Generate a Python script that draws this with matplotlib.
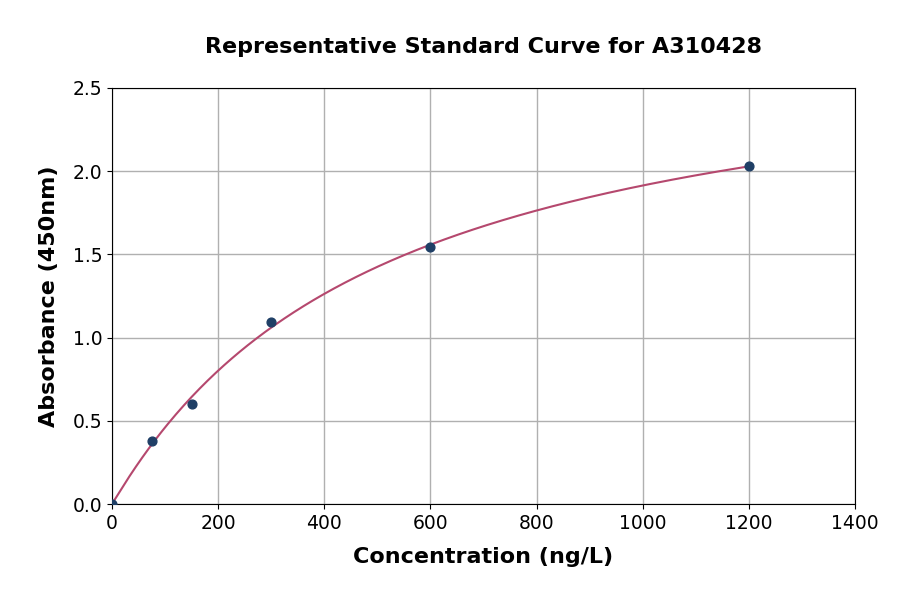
import matplotlib
matplotlib.use("Agg")
import matplotlib.pyplot as plt
import numpy as np

# standard points
concentration = [0, 75, 150, 300, 600, 1200]
absorbance = [0.0, 0.379, 0.601, 1.094, 1.545, 2.031]

x_ticks = [0, 200, 400, 600, 800, 1000, 1200, 1400]
y_ticks = [0.0, 0.5, 1.0, 1.5, 2.0, 2.5]


def fit_curve(x, y):
    """Fit y = a * x^c / (b^c + x^c) with a coarse grid search"""
    x = np.asarray(x, dtype=float)
    y = np.asarray(y, dtype=float)
    best = None
    for b in np.linspace(100, 3000, 300):
        for c in np.linspace(0.5, 2.0, 151):
            f = x ** c / (b ** c + x ** c)
            a = (f @ y) / (f @ f)
            sse = np.sum((a * f - y) ** 2)
            if best is None or sse < best[0]:
                best = (sse, a, b, c)
    _, a, b, c = best
    return lambda t: a * t ** c / (b ** c + t ** c)


curve = fit_curve(concentration, absorbance)
xs = np.linspace(0, max(concentration), 400)

fig = plt.figure(figsize=(9, 5.94), dpi=100)
ax = fig.add_axes([0.1244, 0.1515, 0.8256, 0.7004])

ax.plot(xs, curve(xs), color="#b5486e", linewidth=1.5, zorder=3)
ax.scatter(concentration, absorbance, color="#1f3f66", s=40, zorder=4)

ax.set_xlim(0, 1400)
ax.set_ylim(0, 2.5)
ax.set_xticks(x_ticks)
ax.set_yticks(y_ticks)
ax.set_yticklabels([f"{v:.1f}" for v in y_ticks])
ax.tick_params(labelsize=13.5)
ax.grid(True, color="#b0b0b0", linewidth=1)
ax.set_axisbelow(True)

ax.set_xlabel("Concentration (ng/L)", fontsize=16, fontweight="bold", labelpad=10)
ax.set_ylabel("Absorbance (450nm)", fontsize=16, fontweight="bold", labelpad=10)
ax.set_title("Representative Standard Curve for A310428", fontsize=16,
             fontweight="bold", pad=25)

fig.savefig("out.png", dpi=100)
